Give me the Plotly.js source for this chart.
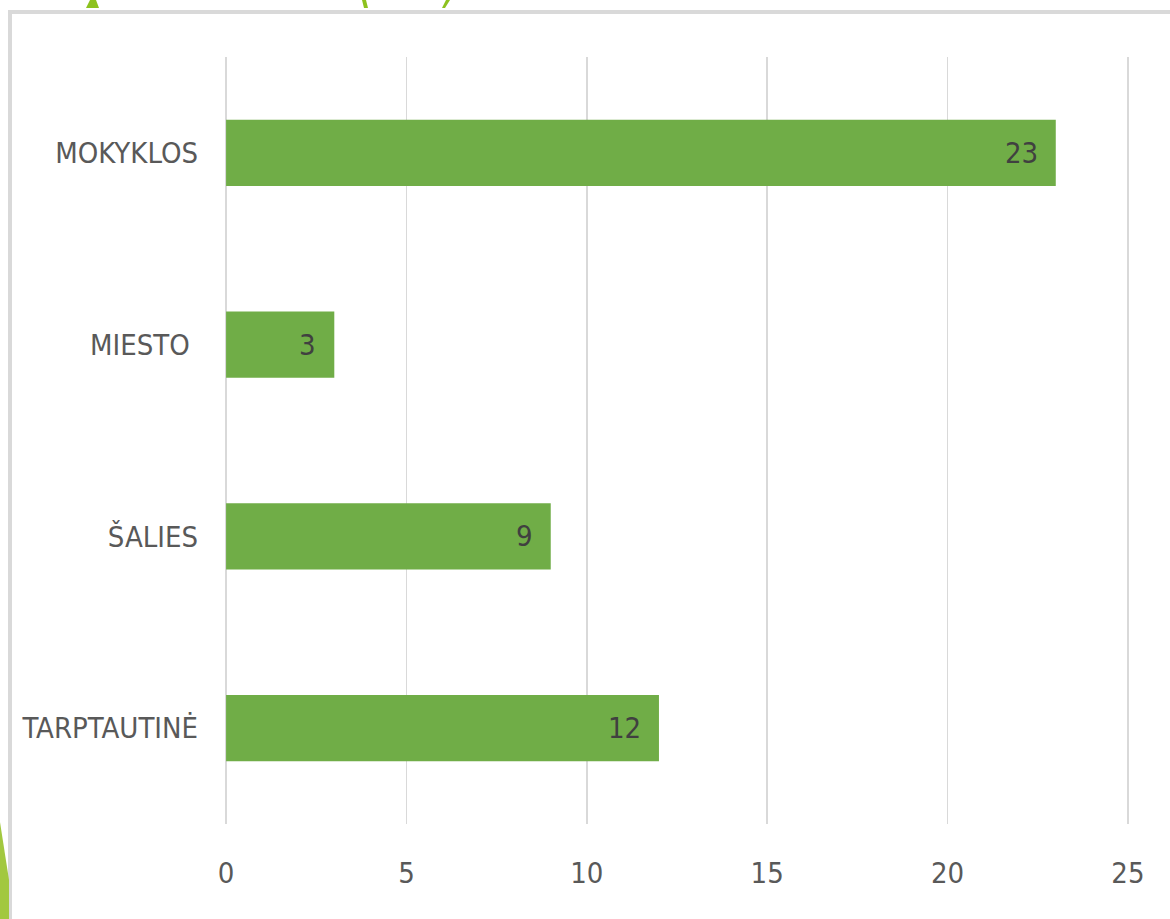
<!DOCTYPE html>
<html>
<head>
<meta charset="utf-8">
<script src="https://cdn.plot.ly/plotly-3.0.1.min.js"></script>
<style>html,body{margin:0;padding:0;background:#fff;}#chart{width:1170px;height:919px;}</style>
</head>
<body>
<div id="chart"></div>
<script>
const categories = ["MOKYKLOS", "MIESTO ", "ŠALIES", "TARPTAUTINĖ"];
const values = [23, 3, 9, 12];
const tickValues = [0, 5, 10, 15, 20, 25];

const W = 1170, H = 919, L = 225, R = 41, T = 57, B = 95;
const pw = W - L - R, ph = H - T - B;
function px(x) { return (x - L) / pw; }
function py(y) { return (H - B - y) / ph; }
function path(pts) {
  return 'M' + pts.map(p => px(p[0]) + ',' + py(p[1])).join(' L') + ' Z';
}

const font = "'DejaVu Sans Condensed', 'Liberation Sans Narrow', Arial, sans-serif";

const trace = {
  type: 'bar',
  orientation: 'h',
  x: values,
  y: categories,
  marker: { color: '#70AD47' },
  hoverinfo: 'none'
};

const labelAnnotations = values.map((v, i) => ({
  x: v, y: categories[i], xref: 'x', yref: 'y',
  text: String(v), showarrow: false,
  xanchor: 'right', yanchor: 'middle', xshift: -16,
  font: { family: font, size: 29, color: '#404040' }
}));

const layout = {
  width: W, height: H,
  margin: { l: L, r: R, t: T, b: B, pad: 0 },
  paper_bgcolor: '#ffffff',
  plot_bgcolor: '#ffffff',
  bargap: 0.655,
  showlegend: false,
  font: { family: font, color: '#595959' },
  xaxis: {
    range: [-0.03, 25.03],
    tickvals: tickValues,
    ticktext: tickValues.map(String),
    showgrid: true,
    gridcolor: '#d9d9d9',
    gridwidth: 1.5,
    zeroline: false,
    showline: false,
    ticks: '',
    ticklabelstandoff: 29,
    tickfont: { family: font, size: 29, color: '#595959' },
    fixedrange: true
  },
  yaxis: {
    autorange: 'reversed',
    showgrid: false,
    zeroline: false,
    showline: false,
    ticks: '',
    ticklabelstandoff: 26,
    tickfont: { family: font, size: 29, color: '#595959' },
    fixedrange: true
  },
  annotations: labelAnnotations,
  shapes: [
    { type: 'rect', xref: 'paper', yref: 'paper', layer: 'below',
      x0: px(10), x1: px(1200), y0: py(960), y1: py(12),
      line: { color: '#d9d9d9', width: 4 }, fillcolor: 'rgba(0,0,0,0)' },
    { type: 'path', xref: 'paper', yref: 'paper', layer: 'above',
      path: path([[0, 822], [9, 880], [9, 919], [0, 919]]),
      fillcolor: '#A2C83F', line: { width: 0 } },
    { type: 'path', xref: 'paper', yref: 'paper', layer: 'above',
      path: path([[90, 0], [96, 0], [99, 8], [86, 8]]),
      fillcolor: '#8DC21F', line: { width: 0 } },
    { type: 'path', xref: 'paper', yref: 'paper', layer: 'above',
      path: path([[362, 0], [366, 0], [368, 8], [364, 8]]),
      fillcolor: '#8DC21F', line: { width: 0 } },
    { type: 'path', xref: 'paper', yref: 'paper', layer: 'above',
      path: path([[446, 0], [450, 0], [445, 8], [442, 8]]),
      fillcolor: '#8DC21F', line: { width: 0 } }
  ]
};

Plotly.newPlot('chart', [trace], layout, { staticPlot: true, displayModeBar: false });
</script>
</body>
</html>
